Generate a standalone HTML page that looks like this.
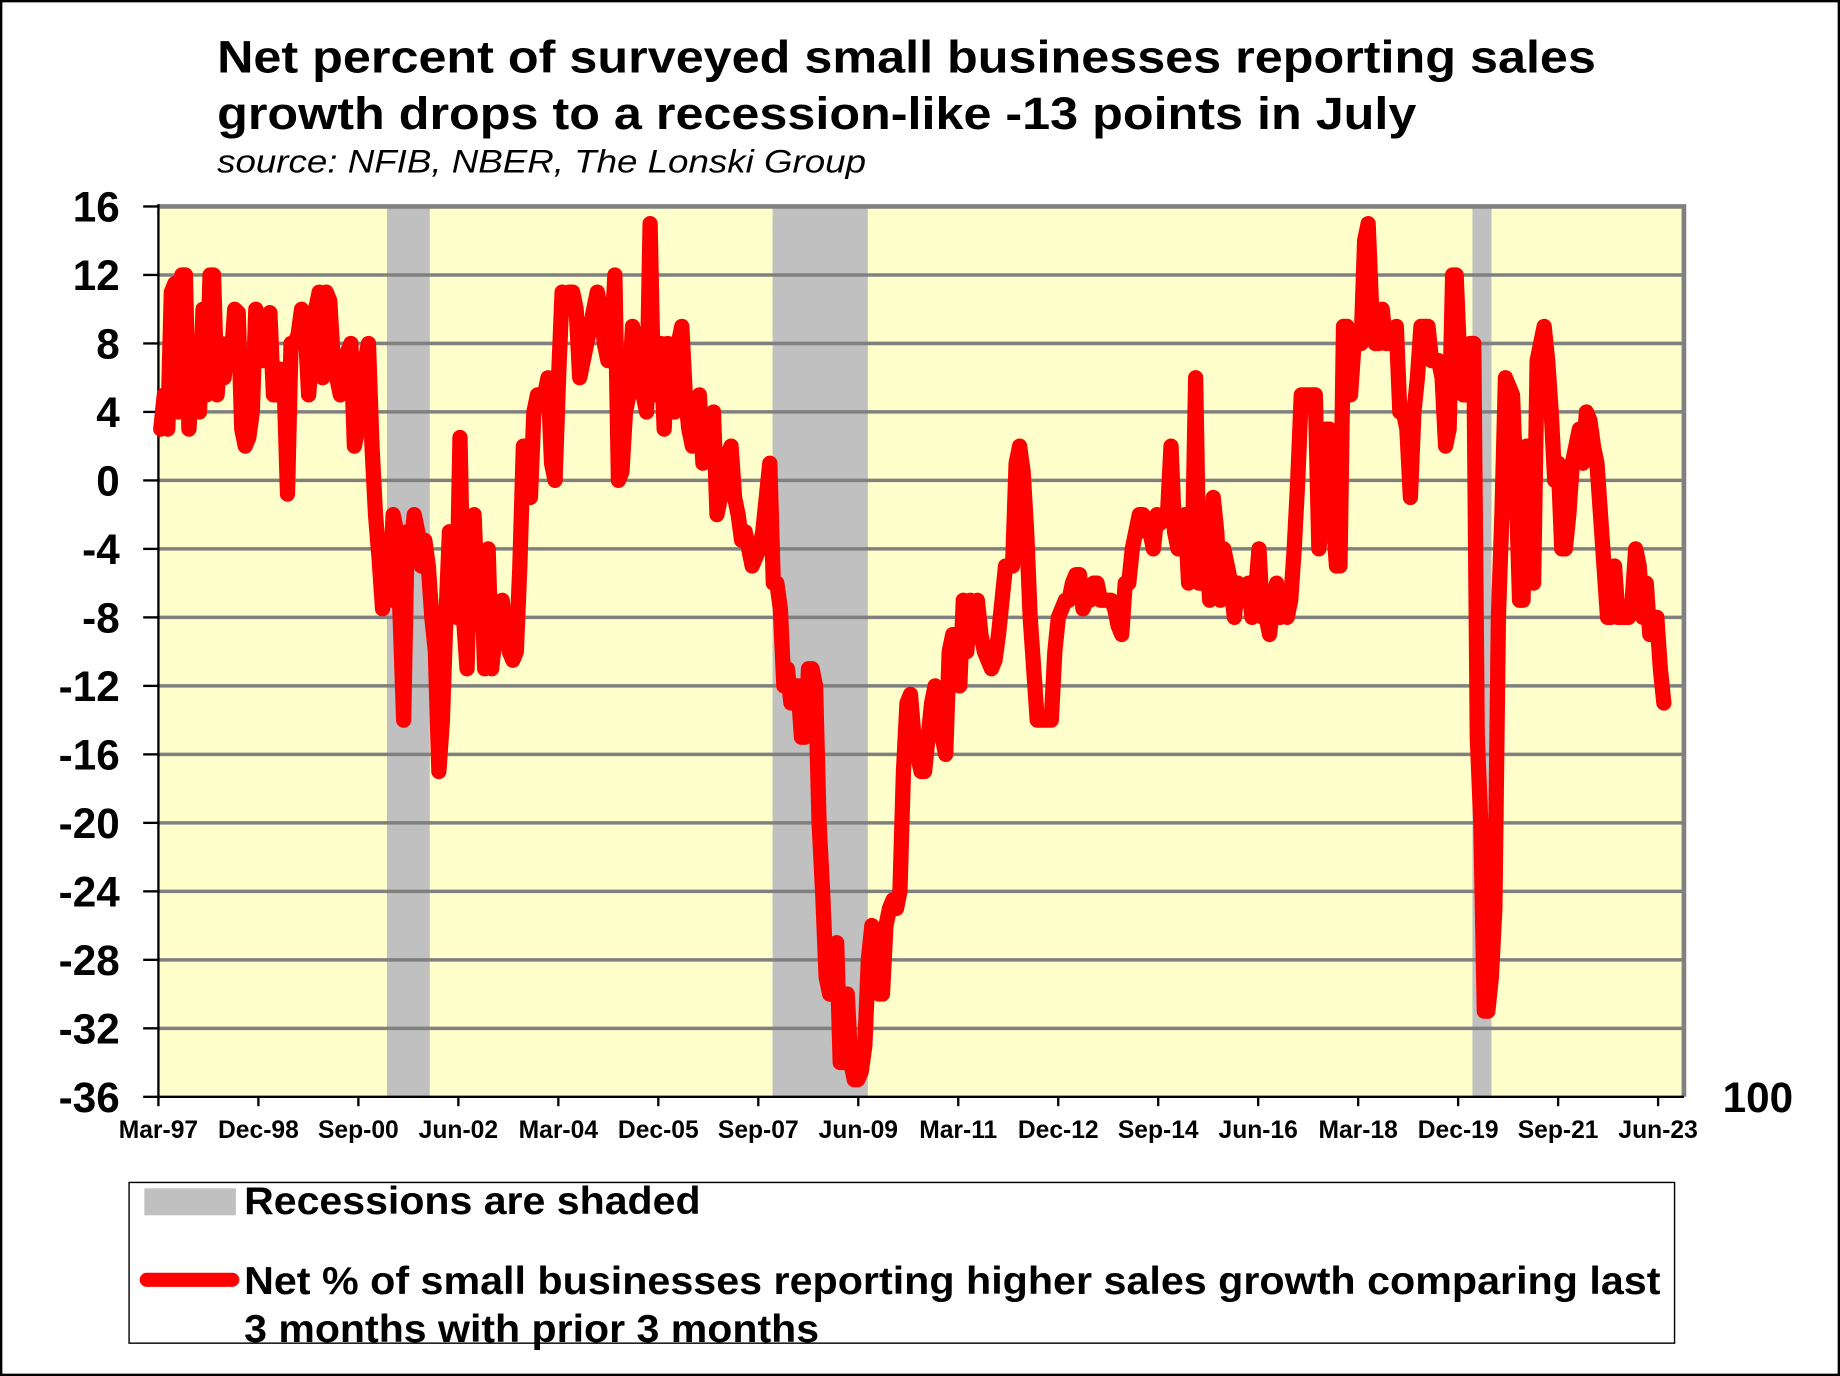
<!DOCTYPE html>
<html><head><meta charset="utf-8"><style>
html,body{margin:0;padding:0;background:#fff}
svg{display:block}
text{font-family:"Liberation Sans",Arial,sans-serif}
</style></head><body>
<svg id="chart" width="1840" height="1376" viewBox="0 0 1568 1173" preserveAspectRatio="none" xmlns="http://www.w3.org/2000/svg">
<rect x="1" y="1" width="1566" height="1171" fill="#fff" stroke="#000" stroke-width="2"/>
<text x="185" y="62" font-size="39" font-weight="bold" textLength="1175" lengthAdjust="spacingAndGlyphs">Net percent of surveyed small businesses reporting sales</text>
<text x="185" y="110" font-size="39" font-weight="bold" textLength="1022" lengthAdjust="spacingAndGlyphs">growth drops to a recession-like -13 points in July</text>
<text x="185" y="147" font-size="28" font-style="italic" textLength="553" lengthAdjust="spacingAndGlyphs">source: NFIB, NBER, The Lonski Group</text>
<g id="plot"></g>
<text x="1468" y="948" font-size="36" font-weight="bold">100</text>
<g>
<rect x="110" y="1008" width="1317" height="137" fill="#fff" stroke="#000" stroke-width="1.2"/>
<rect x="123" y="1013" width="78" height="23" fill="#C0C0C0"/>
<text x="208" y="1035" font-size="33" font-weight="bold" textLength="389" lengthAdjust="spacingAndGlyphs">Recessions are shaded</text>
<line x1="125" y1="1091" x2="198" y2="1091" stroke="#FF0000" stroke-width="12" stroke-linecap="round"/>
<text x="208" y="1103" font-size="33" font-weight="bold" textLength="1207" lengthAdjust="spacingAndGlyphs">Net % of small businesses reporting higher sales growth comparing last</text>
<text x="208" y="1144" font-size="33" font-weight="bold" textLength="490" lengthAdjust="spacingAndGlyphs">3 months with prior 3 months</text>
</g>
</svg>
<script>
const yTicks = [16,12,8,4,0,-4,-8,-12,-16,-20,-24,-28,-32,-36];
const xTickLabels = ["Mar-97","Dec-98","Sep-00","Jun-02","Mar-04","Dec-05","Sep-07","Jun-09","Mar-11","Dec-12","Sep-14","Jun-16","Mar-18","Dec-19","Sep-21","Jun-23"];
const xTickMonths = [0,21,42,63,84,105,126,147,168,189,210,231,252,273,294,315];
const recessionStarts = [48,129,276];
const recessionEnds = [57,149,280];
const seriesValues = [3,5,3,11,11.5,4,12,12,3,7,7,4,10,5,12,12,5,8,6,8,7,10,9.8,3,2,2.5,4,10,9.5,7,9.5,9.8,5,5,6.5,6,-0.8,8,8,8.5,10,9,5,7.5,10,11,6,11,10.5,7,6,5,6,7.5,8,2,3,3.5,7,8,2,-2,-4.5,-7.5,-6,-7,-2,-3,-8,-14,-3,-4,-2,-3,-5,-3.5,-5,-8,-10,-17,-14,-8,-3,-5,-8,2.5,-8,-11,-3,-2,-7,-5,-11,-4,-11,-9,-8,-7,-9,-10,-10.5,-10,-5,2,0,-1,4,5,5,5,6,1,0,6,11,10,11,11,10,6,7,8,9,10,11,10,8,7,8,12,0,0.5,4,5,9,8,6,5,4,15,5,5,8,3,8,7,4,8,9,5,3,2,4,5,1,3,3.5,4,-2,-1,0,1.5,2,-1,-2,-3.5,-3,-4,-5,-4.5,-4,-3,-1,1,-6,-6,-7.5,-12,-11,-13,-12,-12,-15,-15,-11,-11,-12,-20,-24,-29,-30,-28,-27,-34,-34,-30,-34,-35,-35,-34.5,-33,-28,-26,-29,-30,-30,-26,-25,-24.5,-25,-24,-17,-13,-12.5,-15,-16,-17,-17,-15,-13,-12,-12.3,-15,-16,-10,-9,-9.5,-12,-7,-10,-7,-8,-7,-9,-10,-10.5,-11,-10.5,-9,-7,-5,-5,-5,1,2,0.5,-3,-8,-11,-14,-14,-14,-14,-14,-10,-8,-7.5,-7,-7,-6,-5.5,-5.5,-7.5,-7,-7,-6,-6,-7,-7,-7,-7,-7.5,-8.5,-9,-6,-6,-4,-3,-2,-2,-3,-3,-4,-2,-2.5,-2,-2,2,-3,-4,-4,-2,-6,-5,6,-6,-6,-4,-7,-1,-3,-7,-4,-5,-6,-8,-6,-7,-7,-6,-8,-6.5,-4,-8,-8,-9,-7,-6,-8,-7.5,-8,-7,-4,0,5,5,5,5,5,-4,-2,3,3,-2,-5,-5,9,9,5,8,8,8,14,15,10,8,8,10,8,8,8,9,4,4,3,-1,4,6,9,9,9,7,7,7,6,2,3,12,12,7,5,5,8,8,-15,-20,-31,-31,-29,-25,-8,-2,6,5.5,5,0,-7,-7,2,-3,-6,7,8,9,7,4,0,1,-4,-4,-2,1,2,3,1,4,3.5,2,1,-2,-5,-8,-8,-5,-8,-8,-8,-8,-7,-4,-5,-8,-6,-9,-8,-8,-11,-13];
const seriesStartMonth = 0.5;
const seriesEndMonth = 316.2;

const L=135,R=1435,T=176,B=935,monthPx=(1413-135)/315;
const yMin=-36,yMax=16;
function xScale(m){return L+m*monthPx;}
function yScale(v){return B-(v-yMin)/(yMax-yMin)*(B-T);}
const NS="http://www.w3.org/2000/svg";
const g=document.getElementById('plot');
function mk(tag,attrs,parent){const e=document.createElementNS(NS,tag);for(const k in attrs)e.setAttribute(k,attrs[k]);(parent||g).appendChild(e);return e;}

const bg=mk('rect',{x:L,y:T,width:R-L,height:B-T,fill:'#FFFFCC'});



recessionStarts.forEach((s,i)=>{
  const r=mk('rect',{x:xScale(s),y:T,width:xScale(recessionEnds[i])-xScale(s),height:B-T,fill:'#C0C0C0'});
  
  
});

yTicks.forEach(v=>{
  const y=yScale(v);
  if(v!==yMin&&v!==yMax){
    const ln=mk('line',{x1:L,x2:R,y1:y,y2:y,stroke:'#808080','stroke-width':3});
    
    
  }
  const tk=mk('line',{x1:L-13,x2:L,y1:y,y2:y,stroke:'#000','stroke-width':2});
  
  
  const t=mk('text',{x:102,y:y+13,'text-anchor':'end','font-size':36,'font-weight':'bold'});
  t.textContent=String(v);
  
  
});

const fr=mk('polyline',{points:`${L},${T} ${R},${T} ${R},${B}`,fill:'none',stroke:'#808080','stroke-width':4});


const ax=mk('line',{x1:L,x2:L,y1:T-2,y2:B+2,stroke:'#000','stroke-width':2});


const xa=mk('line',{x1:L,x2:R,y1:B,y2:B,stroke:'#000','stroke-width':2});



xTickMonths.forEach((m,i)=>{
  const x=xScale(m);
  const tk=mk('line',{x1:x,x2:x,y1:B,y2:B+8,stroke:'#000','stroke-width':2});
  
  
  const t=mk('text',{x:x,y:970,'text-anchor':'middle','font-size':21,'font-weight':'bold'});
  t.textContent=xTickLabels[i];
  
  
});

const n=seriesValues.length;
const pts=seriesValues.map((v,i)=>{
  const m=seriesStartMonth+i*(seriesEndMonth-seriesStartMonth)/(n-1);
  return xScale(m).toFixed(1)+','+yScale(v).toFixed(1);
}).join(' ');
const line=mk('polyline',{points:pts,fill:'none',stroke:'#FF0000','stroke-width':13,'stroke-linejoin':'round','stroke-linecap':'round'});


</script>
</body></html>
